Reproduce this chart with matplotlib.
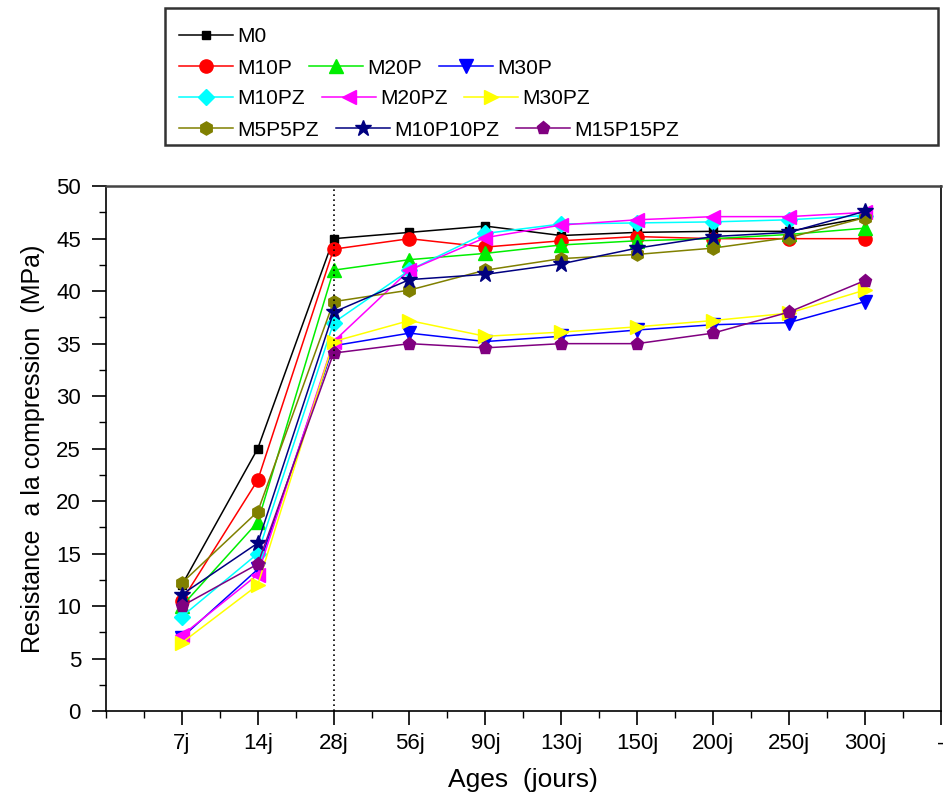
import numpy as np
import matplotlib.pyplot as plt
from matplotlib.ticker import MultipleLocator

plt.rcParams['font.family'] = ['Liberation Sans', 'DejaVu Sans']

ages = ["7j", "14j", "28j", "56j", "90j", "130j", "150j", "200j", "250j", "300j"]

M0 = [12, 25, 45, 45.6, 46.2, 45.3, 45.6, 45.7, 45.7, 47]
M10P = [10.5, 22, 44, 45, 44.2, 44.8, 45.2, 45, 45, 45]
M20P = [10, 18, 42, 43, 43.6, 44.4, 44.8, 45, 45.4, 46]
M30P = [7, 13.5, 34.8, 36, 35.2, 35.7, 36.3, 36.8, 37, 39]
M10PZ = [9, 15, 37, 42, 45.5, 46.4, 46.5, 46.6, 46.8, 47.2]
M20PZ = [7.2, 13, 35.2, 42, 45.1, 46.3, 46.8, 47.1, 47.1, 47.5]
M30PZ = [6.5, 12, 35.2, 37.2, 35.7, 36.1, 36.6, 37.2, 37.9, 40.1]
M5P5PZ = [12.2, 19, 39, 40.1, 42, 43.1, 43.5, 44.1, 45.1, 47]
M10P10PZ = [11.1, 16, 38, 41.1, 41.6, 42.6, 44.1, 45.2, 45.6, 47.6]
M15P15PZ = [10, 14, 34.1, 35, 34.6, 35, 35, 36, 38, 41]

series = [
    ("M0", M0, "black", "s"),
    ("M10P", M10P, "red", "o"),
    ("M20P", M20P, "#00ee00", "^"),
    ("M30P", M30P, "blue", "v"),
    ("M10PZ", M10PZ, "cyan", "D"),
    ("M20PZ", M20PZ, "magenta", "<"),
    ("M30PZ", M30PZ, "yellow", ">"),
    ("M5P5PZ", M5P5PZ, "olive", "h"),
    ("M10P10PZ", M10P10PZ, "navy", "*"),
    ("M15P15PZ", M15P15PZ, "purple", "p"),
]

fig = plt.figure(figsize=(9.43, 7.94), dpi=100)
ax = fig.add_axes([0.1124, 0.1045, 0.885, 0.661])

x = np.arange(1, len(ages) + 1)
handles = []
for name, vals, col, mk in series:
    if mk == "s":
        ms = 6
    elif mk == "*":
        ms = 12
    elif mk == "D":
        ms = 8
    else:
        ms = 9.5
    h, = ax.plot(x, vals, color=col, marker=mk, markersize=ms, linewidth=1.1,
                 label=name)
    handles.append(h)

ax.axvline(3, color="black", linestyle=(0, (1, 2)), linewidth=1.2)

ax.set_xlim(0, 11)
ax.set_ylim(0, 50)
ax.set_xticks(np.arange(1, 12))
ax.set_xticklabels(ages + ["-"])
ax.xaxis.set_minor_locator(MultipleLocator(0.5))
ax.yaxis.set_major_locator(MultipleLocator(5))
ax.yaxis.set_minor_locator(MultipleLocator(2.5))
ax.tick_params(axis="both", which="major", direction="out", length=10, width=1.2,
               labelsize=16, colors="black")
ax.tick_params(axis="y", which="major", pad=8)
ax.tick_params(axis="x", which="major", pad=6)
ax.tick_params(axis="both", which="minor", direction="out", length=5, width=1.0)
for s in ax.spines.values():
    s.set_linewidth(1.2)
ax.spines["top"].set_color("#444444")
ax.spines["top"].set_linewidth(1.8)

ax.set_xlabel("Ages  (jours)", fontsize=19, labelpad=10)
ax.set_ylabel("Resistance  a la compression  (MPa)", fontsize=18, labelpad=8)

# legend box, one row at a time
rows = [[0], [1, 2, 3], [4, 5, 6], [7, 8, 9]]
row_y = [0.966, 0.926, 0.888, 0.848]
for idx, yy in zip(rows, row_y):
    fig.legend([handles[i] for i in idx], [series[i][0] for i in idx],
               loc="upper left", bbox_to_anchor=(0.19, yy), ncol=3,
               frameon=False, fontsize=15, handlelength=2.6,
               handletextpad=0.2, columnspacing=0.8, borderpad=0,
               borderaxespad=0)
frame = plt.Rectangle((0.175, 0.818), 0.82, 0.172, transform=fig.transFigure,
                      fill=False, edgecolor="#333333", linewidth=1.8)
fig.add_artist(frame)

fig.savefig("out.png", dpi=100)
